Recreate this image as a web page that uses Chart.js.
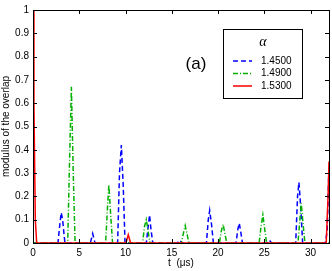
<!DOCTYPE html>
<html><head><meta charset="utf-8">
<script src="https://cdn.jsdelivr.net/npm/chart.js@4.4.0/dist/chart.umd.min.js"></script>
<style>html,body{margin:0;padding:0;background:#fff}#wrap{width:332px;height:271px}</style>
</head><body><div id="wrap"><canvas id="c" width="332" height="271"></canvas></div>
<script>
const seriesNames = ["1.4500", "1.4900", "1.5300"];
const xTicks = [0, 5, 10, 15, 20, 25, 30];
const yTicks = [0, 0.1, 0.2, 0.3, 0.4, 0.5, 0.6, 0.7, 0.8, 0.9, 1];
const yTickLabels = ["0", "0.1", "0.2", "0.3", "0.4", "0.5", "0.6", "0.7", "0.8", "0.9", "1"];

const tBlue = [0, 2.7, 2.9, 3.05, 3.2, 3.45, 6.2, 6.45, 6.7, 9.15, 9.35, 9.55, 9.75, 9.95, 12.25, 12.45, 12.6, 12.75, 12.95, 15.6, 15.85, 16.1, 18.75, 18.95, 19.1, 19.3, 19.5, 21.95, 22.15, 22.3, 22.45, 22.65, 25.3, 25.55, 25.8, 28.4, 28.6, 28.75, 28.95, 29.15, 31.6, 31.8, 32];
const yBlue = [0, 0, 0.08, 0.13, 0.1, 0, 0, 0.04, 0, 0, 0.3, 0.42, 0.25, 0, 0, 0.07, 0.12, 0.06, 0, 0, 0.012, 0, 0, 0.1, 0.14, 0.08, 0, 0, 0.06, 0.085, 0.05, 0, 0, 0.012, 0, 0, 0.2, 0.26, 0.15, 0, 0, 0.05, 0.33];

const tGreen = [0, 3.75, 3.95, 4.15, 4.35, 4.55, 7.85, 8.05, 8.2, 8.4, 8.6, 11.85, 12.05, 12.25, 12.45, 12.65, 16.05, 16.25, 16.45, 16.65, 16.85, 20.15, 20.35, 20.55, 20.75, 20.95, 24.45, 24.65, 24.85, 25.05, 25.25, 28.65, 28.85, 29.0, 29.2, 29.4, 32];
const yGreen = [0, 0, 0.35, 0.67, 0.3, 0, 0, 0.15, 0.25, 0.12, 0, 0, 0.07, 0.1, 0.05, 0, 0, 0.04, 0.075, 0.04, 0, 0, 0.05, 0.08, 0.04, 0, 0, 0.07, 0.12, 0.06, 0, 0, 0.1, 0.17, 0.08, 0, 0];

const tRed = [0, 0.1, 0.25, 0.4, 10.05, 10.3, 10.55, 31.7, 31.9, 32];
const yRed = [1, 0.6, 0.1, 0, 0, 0.035, 0, 0, 0.2, 0.35];

const colors = ["#0000ff", "#00b000", "#ff0000"];
const dashes = [[5, 3], [5, 2, 1, 2], []];

function pts(t, y) { return t.map((v, i) => ({ x: v, y: y[i] })); }

const FONT = "'Liberation Sans', Arial, sans-serif";

const framePlugin = {
  id: 'frame',
  afterDraw(chart) {
    const ctx = chart.ctx, a = chart.chartArea;
    const xs = chart.scales.x, ys = chart.scales.y;
    ctx.save();
    ctx.strokeStyle = '#000';
    ctx.lineWidth = 1;
    ctx.strokeRect(Math.round(a.left) + 0.5, Math.round(a.top) + 0.5, Math.round(a.right - a.left), Math.round(a.bottom - a.top));
    ctx.beginPath();
    const L = 4;
    xTicks.forEach(v => {
      const px = Math.round(xs.getPixelForValue(v)) + 0.5;
      ctx.moveTo(px, a.bottom); ctx.lineTo(px, a.bottom - L);
      ctx.moveTo(px, a.top); ctx.lineTo(px, a.top + L);
    });
    yTicks.forEach(v => {
      const py = Math.round(ys.getPixelForValue(v)) + 0.5;
      ctx.moveTo(a.left, py); ctx.lineTo(a.left + L, py);
      ctx.moveTo(a.right, py); ctx.lineTo(a.right - L, py);
    });
    ctx.stroke();

    // panel label
    ctx.fillStyle = '#000';
    ctx.font = "17px " + FONT;
    ctx.textAlign = 'center';
    ctx.textBaseline = 'middle';
    ctx.fillText("(a)", 196, 64);

    // legend box
    const bx = 223.5, by = 29.5, bw = 79, bh = 69;
    ctx.fillStyle = '#fff';
    ctx.fillRect(bx, by, bw, bh);
    ctx.strokeStyle = '#000';
    ctx.strokeRect(bx, by, bw, bh);
    ctx.fillStyle = '#000';
    ctx.font = "italic 14px 'Liberation Serif', 'DejaVu Serif', serif";
    ctx.textAlign = 'center';
    ctx.fillText("α", bx + bw / 2, 42);
    ctx.font = "10px " + FONT;
    ctx.textAlign = 'left';
    const rows = [61, 73.5, 86];
    seriesNames.forEach((n, i) => {
      ctx.beginPath();
      ctx.strokeStyle = colors[i];
      ctx.lineWidth = 1.5;
      ctx.setLineDash(dashes[i]);
      ctx.moveTo(233, rows[i]); ctx.lineTo(252, rows[i]);
      ctx.stroke();
      ctx.setLineDash([]);
      ctx.fillStyle = '#000';
      ctx.fillText(n, 261, rows[i]);
    });
    ctx.restore();
  }
};

new Chart(document.getElementById('c'), {
  type: 'line',
  data: {
    datasets: [
      { label: seriesNames[0], data: pts(tBlue, yBlue), borderColor: colors[0], borderDash: dashes[0], order: 2 },
      { label: seriesNames[1], data: pts(tGreen, yGreen), borderColor: colors[1], borderDash: dashes[1], order: 1 },
      { label: seriesNames[2], data: pts(tRed, yRed), borderColor: colors[2], borderDash: dashes[2], order: 0 }
    ]
  },
  options: {
    responsive: false,
    animation: false,
    devicePixelRatio: 1,
    parsing: false,
    elements: { point: { radius: 0 }, line: { borderWidth: 1.5, tension: 0, fill: false } },
    layout: { padding: { top: 10, right: 3, left: 0, bottom: 0 } },
    plugins: { legend: { display: false }, tooltip: { enabled: false } },
    scales: {
      x: {
        type: 'linear', min: 0, max: 32,
        afterBuildTicks: s => { s.ticks = xTicks.map(v => ({ value: v })); },
        afterFit: s => { s.height = 28; },
        grid: { display: false, drawTicks: false },
        border: { display: false },
        ticks: { color: '#000', font: { size: 10, family: FONT }, padding: 4, maxRotation: 0, callback: v => String(v) },
        title: { display: true, text: 't  (μs)', color: '#000', font: { size: 10, family: FONT }, padding: { top: 0, bottom: 2 } }
      },
      y: {
        type: 'linear', min: 0, max: 1,
        afterBuildTicks: s => { s.ticks = yTicks.map(v => ({ value: v })); },
        afterFit: s => { s.width = 33; },
        grid: { display: false, drawTicks: false },
        border: { display: false },
        ticks: { color: '#000', font: { size: 10, family: FONT }, padding: 4, callback: (v) => yTickLabels[yTicks.indexOf(v)] ?? '' },
        title: { display: true, text: 'modulus of the overlap', color: '#000', font: { size: 10, family: FONT }, padding: { top: 0, bottom: 0 } }
      }
    }
  },
  plugins: [framePlugin]
});
</script></body></html>
